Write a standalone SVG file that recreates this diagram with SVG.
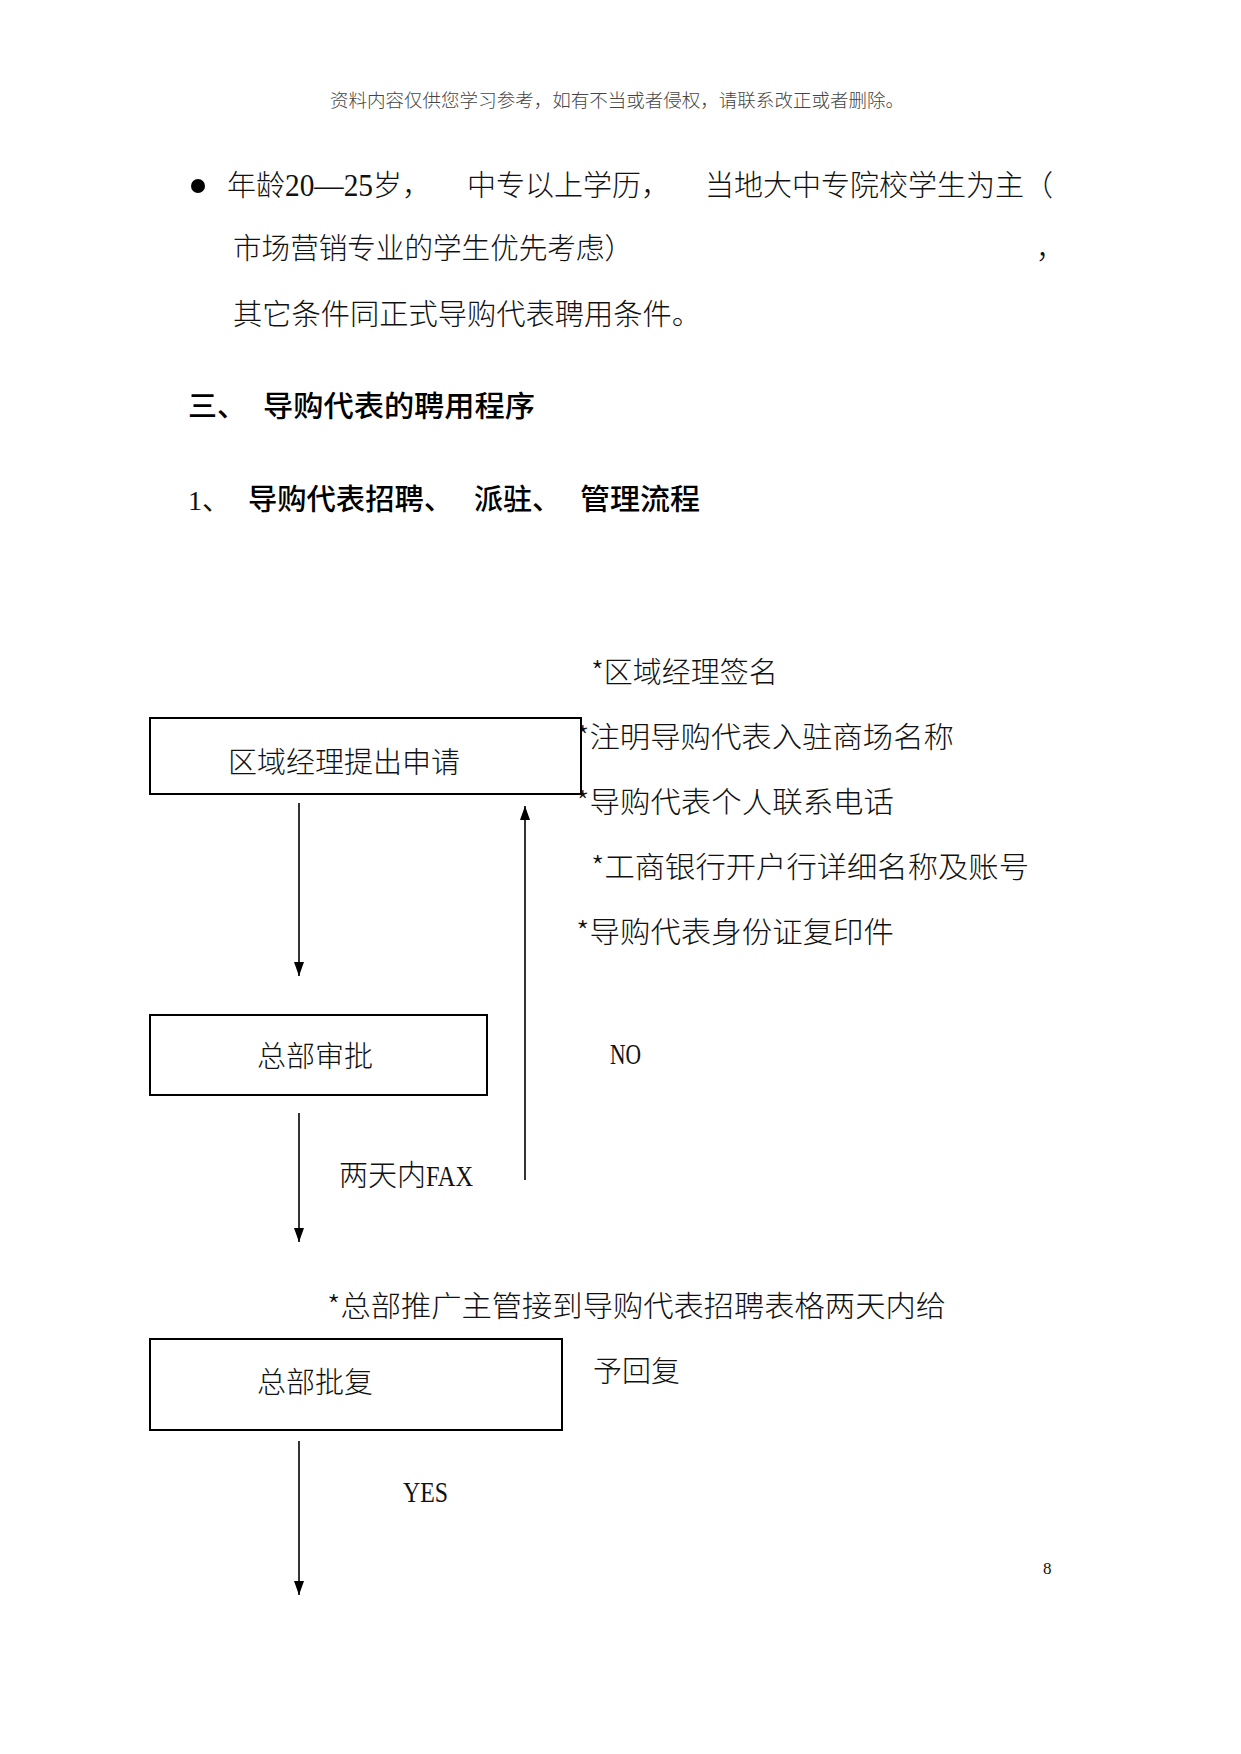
<svg xmlns="http://www.w3.org/2000/svg" width="1241" height="1754" viewBox="0 0 1241 1754">
<style>
.t{font-family:"Noto Sans CJK SC","Noto Sans",sans-serif;font-size:29px;font-weight:300;fill:#111}
.h{font-family:"Noto Sans CJK SC","Noto Sans",sans-serif;font-size:29px;font-weight:500;fill:#000}
.s{font-family:"Liberation Serif","Noto Sans CJK SC",serif;fill:#111}
.hd{font-family:"Noto Sans CJK SC",sans-serif;font-size:18.5px;font-weight:300;fill:#444}
.box{fill:#fff;stroke:#000;stroke-width:2}
.ln{stroke:#000;stroke-width:1.6;fill:none}
</style>
<defs>
<marker id="ah" viewBox="0 0 14 12" refX="14" refY="6" markerWidth="14" markerHeight="12" markerUnits="userSpaceOnUse" orient="auto">
<path d="M0,1 L14,6 L0,11 Z" fill="#000"/>
</marker>
</defs>
<rect width="1241" height="1754" fill="#fff"/>
<text class="hd" x="330" y="107" textLength="574" lengthAdjust="spacingAndGlyphs">资料内容仅供您学习参考，如有不当或者侵权，请联系改正或者删除。</text>

<circle cx="198" cy="186" r="7" fill="#000"/>
<text class="t" x="227" y="196">年龄<tspan class="s" font-size="31" textLength="88" lengthAdjust="spacingAndGlyphs">20—25</tspan>岁，</text>
<text class="t" x="467" y="196">中专以上学历，</text>
<text class="t" x="705" y="196" textLength="348" lengthAdjust="spacingAndGlyphs">当地大中专院校学生为主（</text>
<text class="t" x="233" y="259" textLength="400" lengthAdjust="spacingAndGlyphs">市场营销专业的学生优先考虑）</text>
<text class="t" x="1036" y="259">，</text>
<text class="t" x="233" y="325" textLength="468" lengthAdjust="spacingAndGlyphs">其它条件同正式导购代表聘用条件。</text>

<text class="h" x="188" y="417">三、</text>
<text class="h" x="263" y="417" textLength="272" lengthAdjust="spacingAndGlyphs">导购代表的聘用程序</text>
<text class="s" x="188" y="510" font-size="28">1、</text>
<text class="h" x="248" y="510" textLength="205" lengthAdjust="spacingAndGlyphs">导购代表招聘、</text>
<text class="h" x="474" y="510">派驻、</text>
<text class="h" x="580" y="510" textLength="120" lengthAdjust="spacingAndGlyphs">管理流程</text>

<g id="notes">
<text class="t" x="591" y="683">*区域经理签名</text>
<text class="t" x="576" y="748" textLength="378" lengthAdjust="spacingAndGlyphs">*注明导购代表入驻商场名称</text>
<text class="t" x="576" y="813" textLength="318" lengthAdjust="spacingAndGlyphs">*导购代表个人联系电话</text>
<text class="t" x="591" y="878" textLength="438" lengthAdjust="spacingAndGlyphs">*工商银行开户行详细名称及账号</text>
<text class="t" x="576" y="943" textLength="318" lengthAdjust="spacingAndGlyphs">*导购代表身份证复印件</text>
</g>

<g id="node-apply">
<rect class="box" x="150" y="718" width="431" height="76"/>
<text class="t" x="228" y="773">区域经理提出申请</text>
</g>
<g id="node-review">
<rect class="box" x="150" y="1015" width="337" height="80"/>
<text class="t" x="257" y="1067">总部审批</text>
</g>
<g id="node-reply">
<rect class="box" x="150" y="1339" width="412" height="91"/>
<text class="t" x="257" y="1393">总部批复</text>
</g>

<g id="connectors">
<line class="ln" x1="299" y1="803" x2="299" y2="976" marker-end="url(#ah)"/>
<line class="ln" x1="525" y1="1180" x2="525" y2="806" marker-end="url(#ah)"/>
<line class="ln" x1="299" y1="1113" x2="299" y2="1242" marker-end="url(#ah)"/>
<line class="ln" x1="299" y1="1441" x2="299" y2="1595" marker-end="url(#ah)"/>
</g>

<g id="labels">
<text class="s" x="610" y="1064" font-size="30" textLength="31" lengthAdjust="spacingAndGlyphs">NO</text>
<text class="t" x="339" y="1186">两天内<tspan class="s" font-size="30" textLength="47" lengthAdjust="spacingAndGlyphs">FAX</tspan></text>
<text class="t" x="327" y="1317" textLength="619" lengthAdjust="spacingAndGlyphs">*总部推广主管接到导购代表招聘表格两天内给</text>
<text class="t" x="593" y="1382">予回复</text>
<text class="s" x="403" y="1502" font-size="30" textLength="45" lengthAdjust="spacingAndGlyphs">YES</text>
</g>
<text class="s" x="1043" y="1574" font-size="17">8</text>
</svg>
